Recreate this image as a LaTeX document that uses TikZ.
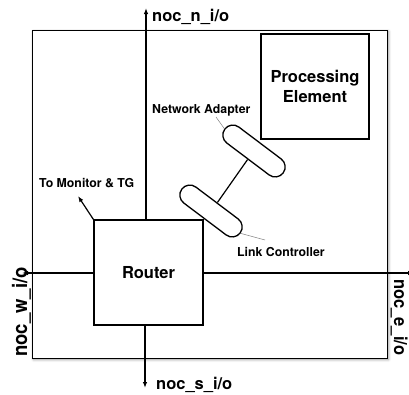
\documentclass[tikz,border=0pt]{standalone}
\usepackage{fontspec}
\setmainfont{TeX Gyre Heros}
\usetikzlibrary{arrows.meta,shadows.blur,shapes.misc}

\tikzset{
  board/.style={draw, line width=0.9pt, fill=white, inner sep=0pt,
    blur shadow={shadow xshift=1.5pt, shadow yshift=-1.5pt,
      shadow blur radius=2.5pt, shadow opacity=45}},
  block/.style={draw, line width=1.3pt, fill=white, inner sep=0pt,
    font=\fontsize{16.5}{20}\selectfont\bfseries, align=center},
  pill/.style={rounded rectangle, draw, line width=1.3pt, fill=white, inner sep=0pt,
    minimum width=73pt, minimum height=20pt, rotate=-37},
  port/.style={line width=1.2pt, -{Latex[length=6pt,width=4.5pt]}},
  wire/.style={line width=1.2pt},
  leader/.style={draw=gray, line width=0.5pt},
  biglabel/.style={font=\fontsize{16.5}{20}\selectfont\bfseries, inner sep=0pt},
  smalllabel/.style={font=\fontsize{12.3}{14}\selectfont\bfseries, inner sep=0pt},
}

\begin{document}
\begin{tikzpicture}[x=1pt, y=-1pt]
  \useasboundingbox (0,0) rectangle (409,394);

  % tile outline
  \node[board, minimum width=355pt, minimum height=328pt] (tile) at (209.5,194) {};

  % port end points
  \coordinate (ntip) at (146,8);
  \coordinate (stip) at (145,388);
  \coordinate (wtip) at (22,273);
  \coordinate (etip) at (414,273);
  \coordinate (mtip) at (78,196);

  % router and processing element
  \node[block, minimum width=109pt, minimum height=105pt] (router) at (148.5,272.5) {Router};
  \node[block, minimum width=108pt, minimum height=105pt] (pe) at (315,86.5) {Processing\\Element};

  % NoC ports
  \draw[port] (router.north -| ntip) -- (ntip);
  \draw[port] (router.south -| stip) -- (stip);
  \draw[port] (router.west |- wtip) -- (wtip);
  \draw[port] (router.east |- etip) -- (etip);
  \draw[port] (router.north west) -- (mtip);

  % network adapter and link controller
  \node[pill] (na) at (254,151) {};
  \node[pill] (lc) at (211,211) {};
  \draw[wire] (na.south) -- (lc.north);

  % leaders
  \coordinate (naleader) at (216,117);
  \coordinate (lcleader) at (265,240);
  \draw[leader] (naleader) -- (na.west);
  \draw[leader] (lc.east) -- (lcleader);

  % labels
  \node[biglabel, anchor=base west] (nlab) at (152,21) {noc\_n\_i/o};
  \node[biglabel, anchor=base west] (slab) at (156,389) {noc\_s\_i/o};
  \node[biglabel, anchor=base west, rotate=90] (wlab) at (27,357)
    {\fontsize{18.5}{22}\selectfont\scalebox{1}[1.1]{noc\_w\_i/o}};
  \node[biglabel, anchor=base west, rotate=-90] (elab) at (394,279)
    {\scalebox{1}[1.1]{noc\_e\_i/o}};
  \node[smalllabel, anchor=base west] (nalab) at (152,113) {Network Adapter};
  \node[smalllabel, anchor=base west] (lclab) at (237,256) {Link Controller};
  \node[smalllabel, anchor=base west] (mlab) at (39,187) {To Monitor \& TG};
\end{tikzpicture}
\end{document}
